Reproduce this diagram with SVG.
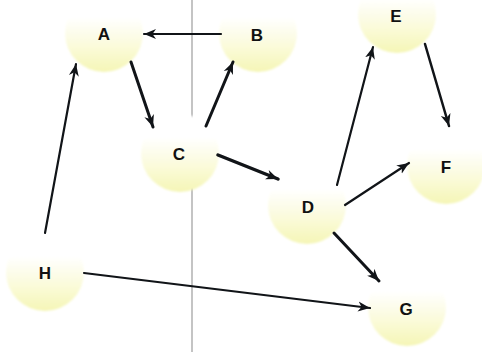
<svg xmlns="http://www.w3.org/2000/svg" width="482" height="352" viewBox="0 0 482 352">
  <defs>
    <linearGradient id="ball" x1="0" y1="0" x2="0" y2="1">
      <stop offset="0" stop-color="#ffffff"/>
      <stop offset="0.3" stop-color="#ffffff"/>
      <stop offset="0.65" stop-color="#fbfbdc"/>
      <stop offset="1" stop-color="#f5f6b6"/>
    </linearGradient>
    <filter id="soft" x="-10%" y="-10%" width="120%" height="120%">
      <feGaussianBlur stdDeviation="1.2"/>
    </filter>
    <marker id="head" markerUnits="userSpaceOnUse" markerWidth="14" markerHeight="12" refX="12" refY="5" orient="auto" viewBox="0 0 14 10">
      <path d="M0,0 L12,5 L0,10 L3.5,5 z" fill="#111418"/>
    </marker>
    <style>
      .node circle { fill: url(#ball); filter: url(#soft); }
      .node text { font-family: "Liberation Sans", Arial, sans-serif; font-weight: bold; font-size: 17px; fill: #111; text-anchor: middle; dominant-baseline: central; }
      .edges line { stroke: #111418; stroke-linecap: round; marker-end: url(#head); }
    </style>
  </defs>

  <rect width="482" height="352" fill="#ffffff"/>

  <!-- divider -->
  <line x1="192" y1="0" x2="192" y2="352" stroke="#c4c4c4" stroke-width="2"/>

  <g id="node-A" class="node"><circle cx="104" cy="33" r="39"/><text x="104" y="34">A</text></g>
  <g id="node-B" class="node"><circle cx="258" cy="33" r="39"/><text x="257" y="35">B</text></g>
  <g id="node-C" class="node"><circle cx="180" cy="153" r="39"/><text x="179" y="154">C</text></g>
  <g id="node-D" class="node"><circle cx="307" cy="205" r="39"/><text x="308" y="207">D</text></g>
  <g id="node-E" class="node"><circle cx="397" cy="14" r="39"/><text x="396" y="16">E</text></g>
  <g id="node-F" class="node"><circle cx="446" cy="165" r="39"/><text x="446" y="167">F</text></g>
  <g id="node-G" class="node"><circle cx="407" cy="307" r="39"/><text x="406" y="309">G</text></g>
  <g id="node-H" class="node"><circle cx="45" cy="272" r="39"/><text x="45" y="273">H</text></g>

  <g id="edges" class="edges">
    <line x1="221" y1="34" x2="144" y2="34" stroke="#22324a" stroke-width="2.2"/>
    <line x1="131" y1="62" x2="153" y2="127" stroke-width="3"/>
    <line x1="206" y1="126" x2="233" y2="62" stroke-width="3"/>
    <line x1="218" y1="155" x2="278" y2="179" stroke-width="3.5"/>
    <line x1="337" y1="185" x2="373" y2="47" stroke-width="2.2"/>
    <line x1="425" y1="44" x2="449" y2="126" stroke-width="2.5"/>
    <line x1="345" y1="205" x2="409" y2="163" stroke-width="2.2"/>
    <line x1="334" y1="233" x2="379" y2="281" stroke-width="3"/>
    <line x1="84" y1="273" x2="370" y2="308" stroke="#1c2630" stroke-width="2.2"/>
    <line x1="45" y1="233" x2="76" y2="64" stroke-width="2.2"/>
  </g>
</svg>
